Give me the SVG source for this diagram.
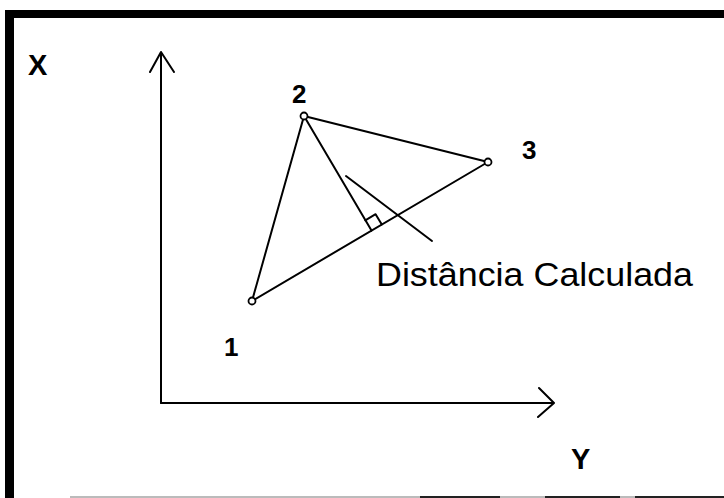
<svg xmlns="http://www.w3.org/2000/svg" width="724" height="498" viewBox="0 0 724 498">
<style>
.ln{stroke:#000;stroke-width:2;fill:none;stroke-linecap:round;stroke-linejoin:round}
.pt{stroke:#000;stroke-width:1.8;fill:#fff}
.lbl{font-family:"Liberation Sans",Arial,sans-serif;font-weight:bold;fill:#000}
.txt{font-family:"Liberation Sans",Arial,sans-serif;fill:#000}
</style>
<rect width="724" height="498" fill="#fff"/>
<g id="frame">
<rect x="5" y="10" width="719" height="8" fill="#000"/>
<rect x="5" y="10" width="9" height="488" fill="#000"/>
<line x1="70" y1="497" x2="724" y2="497" stroke="#bbb" stroke-width="2"/>
<line x1="420" y1="497" x2="500" y2="497" stroke="#222" stroke-width="2"/>
<line x1="545" y1="497" x2="620" y2="497" stroke="#222" stroke-width="2"/>
<line x1="635" y1="497" x2="724" y2="497" stroke="#222" stroke-width="2"/>
</g>
<g id="connectors">
<path class="ln" d="M161 403 V53 M150 72 L161 52 L174 72"/>
<path class="ln" d="M161 403 H553 M539 388 L554 403 L538 417"/>
<line class="ln" x1="252" y1="301" x2="304" y2="116"/>
<line class="ln" x1="304" y1="116" x2="488" y2="162"/>
<line class="ln" x1="252" y1="301" x2="488" y2="162"/>
<line class="ln" x1="304" y1="116" x2="371.5" y2="230.6"/>
<path class="ln" d="M365.3 220.3 L375.6 214.2 L381.8 224.5"/>
<line class="ln" x1="346" y1="176" x2="432" y2="241"/>
</g>
<g id="p1"><circle class="pt" cx="252" cy="301" r="3.5"/><text class="lbl" x="224" y="356" font-size="26">1</text></g>
<g id="p2"><circle class="pt" cx="304" cy="116" r="3.5"/><text class="lbl" x="292" y="103" font-size="26">2</text></g>
<g id="p3"><circle class="pt" cx="488" cy="162" r="3.5"/><text class="lbl" x="522" y="159" font-size="26">3</text></g>
<g id="axisX"><text class="lbl" x="28" y="75" font-size="29">X</text></g>
<g id="axisY"><text class="lbl" x="571" y="469" font-size="29">Y</text></g>
<g id="label"><text class="txt" x="376" y="286" font-size="34" textLength="317" lengthAdjust="spacingAndGlyphs">Distância Calculada</text></g>
</svg>
